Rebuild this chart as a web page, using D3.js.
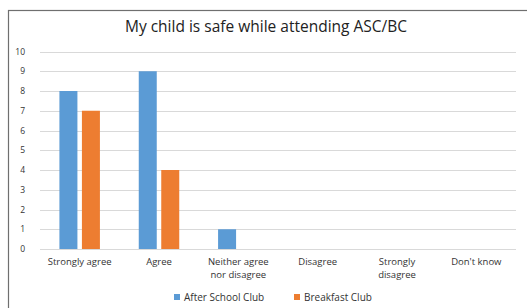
<!DOCTYPE html>
<html>
<head>
<meta charset="utf-8">
<script src="https://cdn.jsdelivr.net/npm/d3@7"></script>
<style>
  body { margin: 0; background: #fff; }
  svg { display: block; font-family: "Open Sans", "Liberation Sans", sans-serif; }
</style>
</head>
<body>
<svg id="chart"></svg>
<script>
const categories = [["Strongly agree"], ["Agree"], ["Neither agree", "nor disagree"], ["Disagree"], ["Strongly", "disagree"], ["Don't know"]];
const seriesNames = ["After School Club", "Breakfast Club"];
const afterSchool = [8, 9, 1, 0, 0, 0];
const breakfast = [7, 4, 0, 0, 0, 0];
const yTicks = [0, 1, 2, 3, 4, 5, 6, 7, 8, 9, 10];
const colors = ["#5B9BD5", "#ED7D31"];

const width = 527, height = 308;
const svg = d3.select("#chart").attr("width", width).attr("height", height);

// chart frame (runs off the right and bottom of the picture)
svg.append("rect")
    .attr("x", 8.5).attr("y", 10.5)
    .attr("width", 540).attr("height", 320)
    .attr("fill", "#fff")
    .attr("stroke", "#6f6f6f").attr("stroke-width", 1.2);

svg.append("text")
    .attr("x", 266).attr("y", 32)
    .attr("text-anchor", "middle")
    .style("font-size", "15.5px")
    .style("fill", "#222")
    .text("My child is safe while attending ASC/BC");

const x0 = d3.scaleBand().domain(d3.range(categories.length)).range([40, 516]);
const x1 = d3.scaleBand().domain(seriesNames).range([0, 40.5]).paddingInner(0.2);
const y = d3.scaleLinear().domain([0, 10]).range([249, 51.5]);

// gridlines
svg.append("g").selectAll("line")
    .data(yTicks)
    .enter().append("line")
    .attr("x1", 40).attr("x2", 516)
    .attr("y1", d => Math.round(y(d)) + 0.5).attr("y2", d => Math.round(y(d)) + 0.5)
    .style("stroke", "#d9d9d9")
    .style("stroke-width", 1);

// y tick labels
svg.append("g").selectAll("text")
    .data(yTicks)
    .enter().append("text")
    .attr("x", 25).attr("y", d => y(d) + 3)
    .attr("text-anchor", "end")
    .style("font-size", "8.5px")
    .style("fill", "#333")
    .text(d => d);

// bars
const series = [afterSchool, breakfast];
const groups = svg.append("g").selectAll("g")
    .data(series)
    .enter().append("g")
    .attr("fill", (d, i) => colors[i]);

groups.selectAll("rect")
    .data((vals, si) => vals.map((v, ci) => ({ v, ci, s: seriesNames[si] })))
    .enter().append("rect")
    .filter(d => d.v > 0)
    .attr("x", d => x0(d.ci) + (x0.bandwidth() - 40.5) / 2 + x1(d.s))
    .attr("width", x1.bandwidth())
    .attr("y", d => y(d.v))
    .attr("height", d => y(0) - y(d.v));

// category labels, one text per line so wrapped lines don't collide
svg.append("g").selectAll("text")
    .data(categories.flatMap((lines, i) => lines.map((l, j) => ({ l, j, i }))))
    .enter().append("text")
    .attr("text-anchor", "middle")
    .attr("x", d => x0(d.i) + x0.bandwidth() / 2)
    .attr("y", d => 265 + d.j * 12.5)
    .style("font-size", "9.5px")
    .style("fill", "#333")
    .text(d => d.l);

// legend
const legendX = [174, 294];
const legend = svg.append("g").selectAll("g")
    .data(seriesNames)
    .enter().append("g")
    .attr("transform", (d, i) => `translate(${legendX[i]},294)`);

legend.append("rect")
    .attr("width", 6).attr("height", 6)
    .attr("fill", (d, i) => colors[i]);

legend.append("text")
    .attr("x", 10).attr("y", 7)
    .style("font-size", "10px")
    .style("fill", "#333")
    .text(d => d);
</script>
</body>
</html>
